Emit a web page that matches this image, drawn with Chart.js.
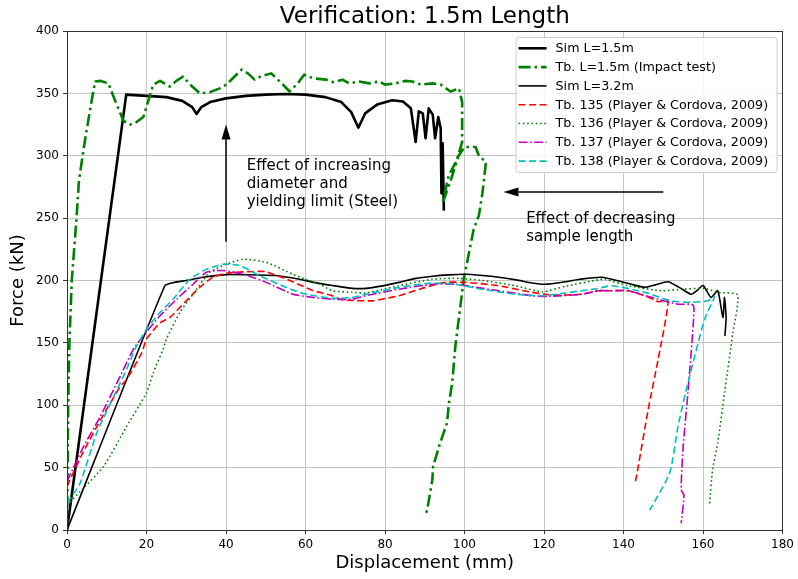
<!DOCTYPE html>
<html>
<head>
<meta charset="utf-8">
<script src="https://cdn.jsdelivr.net/npm/chart.js@4/dist/chart.umd.min.js"></script>
<style>
  html, body { margin: 0; padding: 0; background: #fff; }
  #kap { width: 798px; height: 579px; position: relative; }
</style>
</head>
<body>
<div id="kap"><canvas id="grafik"></canvas></div>
<script>
// Sim L=1.5m
const simKisaX = [0, 14.9, 20, 25, 29, 31.5, 32.6, 33.8, 36, 40, 45, 50, 55, 60, 65, 69, 71.5, 73.3, 75, 78, 81.8, 84.5, 86.5, 87.7, 88.5, 89.5, 90.2, 91, 92, 92.6, 93.4, 94, 94.2, 94.5, 94.8];
const simKisaY = [0, 349, 348, 347, 344, 339, 333.5, 339, 343, 346, 348, 349, 349.5, 349, 347, 343, 335, 322.5, 334, 341, 344.5, 343.5, 338, 311, 335.6, 334, 314, 338, 333, 314, 331, 322, 270, 310, 256];

// Tb. L=1.5m (Impact test)
const darbeX = [0, 0.3, 0.6, 1.2, 2.4, 3, 4.5, 6.3, 7.1, 8.5, 10.4, 12, 14.2, 15.9, 17.5, 19.2, 21.7, 23.4, 24.5, 25.9, 27.5, 29.2, 31, 33.4, 36, 38.4, 40.1, 43.9, 45.5, 47.2, 49, 51.4, 54, 56, 58, 59.7, 62, 65.2, 67, 69.3, 71, 73.5, 76, 78.5, 80, 82.7, 85, 86.9, 89, 91.9, 94, 96.5, 98.6, 99.4, 99.4, 98, 96, 94.5, 96.5, 98.5, 100, 102.8, 103.6, 105.4, 104.5, 103.6, 102.3, 99.8, 97.7, 96.9, 96.1, 95.6, 93.6, 92.1, 91.9, 90.6, 90.2];
const darbeY = [0, 100, 150, 200, 250, 280, 312, 346, 359.5, 360, 358, 345, 328, 325, 327, 331, 357, 360, 358, 355.5, 360, 363.5, 357, 350, 351, 354, 357, 369, 366, 361, 364, 366, 358, 351.5, 358, 365, 362, 361, 359, 361, 358, 359.5, 358, 359.5, 357, 358, 360, 359.5, 357, 358, 357, 351.5, 354, 343, 311, 296, 284, 262, 280, 300, 307, 307, 300, 295, 270, 252, 241, 201, 147.5, 118, 102, 86, 67, 51, 40, 16, 12];

// Sim L=3.2m
const simUzunX = [0, 24.6, 27, 30, 34.2, 40.1, 44.3, 52.6, 58.5, 62, 66.8, 71.8, 75.2, 79, 83.5, 87.5, 91.9, 96, 100.3, 104.5, 108.6, 113, 117, 120.3, 125.3, 129, 134.5, 139.5, 142.5, 145.4, 148, 151.2, 154, 157, 158.5, 160, 162, 163.7, 165, 165.4, 165.8, 165.5];
const simUzunY = [0, 195.8, 198.5, 200, 202.6, 204.7, 204.7, 204, 201, 198.5, 196, 193.7, 193.7, 195.5, 198.5, 201.5, 203.4, 204.5, 205, 204, 202.6, 200.5, 198, 197, 199, 201, 202.6, 199, 196.5, 194.5, 196.5, 199, 194.5, 189, 192, 196, 186.5, 191.8, 170.4, 186.5, 170, 155.6];

// Tb. 135
const tb135X = [0, 4, 8.4, 13.4, 15, 18.8, 20, 23.4, 25.9, 30, 33.4, 36.7, 40.1, 45.1, 50.1, 56.8, 61.8, 66, 69.3, 72, 76.8, 80, 83.5, 90.2, 95.2, 100.3, 104, 108.6, 117, 122, 129.5, 133.7, 137, 141.2, 145.4, 148.7, 151.2, 148.7, 146.2, 143.7, 143];
const tb135Y = [35, 62, 88, 115, 120.7, 142, 153, 166, 170.4, 183.7, 194.5, 202.6, 205.8, 207, 207, 199, 192, 188.5, 184.5, 184, 183.7, 185.5, 187.8, 194.5, 198.5, 198.5, 197.5, 195.8, 190.5, 188.3, 189, 191.8, 191.8, 191.8, 187.8, 183, 183.7, 136.8, 96.6, 51, 38.9];

// Tb. 136
const tb136X = [0, 3.3, 9.2, 15, 20, 21.7, 24.2, 25, 28.4, 31.7, 35.9, 40.1, 44.3, 50.1, 56.8, 60, 63.5, 66.8, 71.8, 75.2, 79, 83.5, 91.9, 98.6, 104.4, 112.8, 119.5, 125.3, 133.7, 135.3, 141.2, 149.5, 155, 160.4, 163.7, 168.7, 167.5, 165.4, 163.7, 162.4, 161.6];
const tb136Y = [20, 30.8, 51, 83, 110, 126, 145, 153, 174.4, 189, 206.6, 213, 217, 214.6, 205, 201, 197, 191.8, 190.5, 190, 192.5, 195.8, 201, 201.8, 200, 195.8, 191, 195.3, 200.6, 201, 195.8, 191.8, 193, 193.7, 190.5, 188.3, 158, 110, 69.8, 48.3, 20];

// Tb. 137
const tb137X = [0, 4.2, 8.4, 13.4, 16.7, 19.2, 23.4, 27.6, 31.7, 35.1, 39.2, 44.3, 50.1, 56.8, 61.8, 66.8, 71.8, 75.2, 83.5, 91.9, 97.7, 103, 108.6, 117, 121.1, 129.5, 133.7, 137, 141.2, 147, 153.7, 157.5, 157.5, 156.2, 155, 154.5, 155.2, 154.5];
const tb137Y = [38.9, 67, 91.2, 123.4, 145, 155.6, 171.7, 185, 197, 206.6, 208, 205.2, 198.5, 189, 186.5, 185, 185, 187.8, 193, 197, 197, 194.5, 191.8, 187.8, 187.3, 189, 191.8, 191.8, 191.8, 186.5, 181, 180.3, 163.6, 110, 67, 32.2, 28, 5.4];

// Tb. 138
const tb138X = [0, 3.3, 7.5, 13.4, 15, 17.1, 20, 23.4, 26.7, 30.9, 35.1, 39.2, 43.4, 48.4, 55.1, 60.2, 66.8, 71.8, 75.2, 83.5, 91.9, 97.7, 104.4, 112.8, 119.5, 125.3, 133.7, 137, 145.4, 152, 157, 161.2, 162.9, 160.4, 156.2, 153.7, 151.6, 146.6];
const tb138Y = [21.5, 37.6, 77.8, 118, 128.8, 145, 161, 174.4, 185, 201, 209, 213, 212, 204, 194.5, 189, 185.7, 186.5, 189, 194.5, 198, 197, 193, 189, 187.8, 190, 193.7, 195.8, 190.5, 183.7, 182.5, 183.7, 187.3, 169, 118, 83, 45.6, 16];

const xTikler = [0, 20, 40, 60, 80, 100, 120, 140, 160, 180];
const yTikler = [0, 50, 100, 150, 200, 250, 300, 350, 400];

// annotation anchors (data units)
const okDikey = { x: 40, y1: 231, y2: 325 };
const okYatay = { y: 271, x1: 150, x2: 109.8 };
const yazi1 = { x: 45.2, y: 288.4, satirlar: ["Effect of increasing", "diameter and", "yielding limit (Steel)"] };
const yazi2 = { x: 115.5, y: 245.7, satirlar: ["Effect of decreasing", "sample length"] };

const FONT = "'DejaVu Sans', sans-serif";

function noktalar(xs, ys) {
  return xs.map((x, i) => ({ x: x, y: ys[i] }));
}

function seri(label, xs, ys, renk, kalinlik, kesik, gerilim, sira) {
  return {
    label: label,
    data: noktalar(xs, ys),
    showLine: true,
    borderColor: renk,
    backgroundColor: renk,
    borderWidth: kalinlik,
    borderDash: kesik,
    tension: gerilim,
    pointRadius: 0,
    pointHoverRadius: 0,
    borderJoinStyle: "round",
    fill: false,
    order: sira
  };
}

const veriSetleri = [
  seri("Sim L=1.5m", simKisaX, simKisaY, "#000000", 2.6, [], 0, 7),
  seri("Tb. L=1.5m (Impact test)", darbeX, darbeY, "#008000", 2.6, [12, 4, 2.5, 4], 0, 6),
  seri("Sim L=3.2m", simUzunX, simUzunY, "#000000", 1.6, [], 0.2, 5),
  seri("Tb. 135 (Player & Cordova, 2009)", tb135X, tb135Y, "#ff0000", 1.6, [7, 3.5], 0.2, 4),
  seri("Tb. 136 (Player & Cordova, 2009)", tb136X, tb136Y, "#008000", 1.6, [1.6, 2.7], 0.2, 3),
  seri("Tb. 137 (Player & Cordova, 2009)", tb137X, tb137Y, "#bf00bf", 1.6, [9, 2.5, 1.6, 2.5], 0.2, 2),
  seri("Tb. 138 (Player & Cordova, 2009)", tb138X, tb138Y, "#00bfbf", 1.6, [7, 3.5], 0.2, 1)
];

function ok(ctx, x1, y1, x2, y2) {
  const aci = Math.atan2(y2 - y1, x2 - x1);
  const boy = 15, gen = 4.5;
  const bx = x2 - boy * Math.cos(aci), by = y2 - boy * Math.sin(aci);
  ctx.beginPath();
  ctx.moveTo(x1, y1);
  ctx.lineTo(bx, by);
  ctx.stroke();
  ctx.beginPath();
  ctx.moveTo(x2, y2);
  ctx.lineTo(bx + gen * Math.sin(aci), by - gen * Math.cos(aci));
  ctx.lineTo(bx - gen * Math.sin(aci), by + gen * Math.cos(aci));
  ctx.closePath();
  ctx.fill();
}

const ekler = {
  id: "ekler",
  afterDatasetsDraw(chart) {
    const ctx = chart.ctx;
    const a = chart.chartArea;
    const sx = chart.scales.x, sy = chart.scales.y;
    ctx.save();

    // arrows
    ctx.strokeStyle = "#000";
    ctx.fillStyle = "#000";
    ctx.lineWidth = 1.5;
    ctx.setLineDash([]);
    ok(ctx, sx.getPixelForValue(okDikey.x), sy.getPixelForValue(okDikey.y1),
      sx.getPixelForValue(okDikey.x), sy.getPixelForValue(okDikey.y2));
    ok(ctx, sx.getPixelForValue(okYatay.x1), sy.getPixelForValue(okYatay.y),
      sx.getPixelForValue(okYatay.x2), sy.getPixelForValue(okYatay.y));

    // annotation text
    ctx.font = "15px " + FONT;
    ctx.fillStyle = "#000";
    ctx.textAlign = "left";
    ctx.textBaseline = "alphabetic";
    [yazi1, yazi2].forEach((y) => {
      const px = sx.getPixelForValue(y.x), py = sy.getPixelForValue(y.y);
      y.satirlar.forEach((s, i) => ctx.fillText(s, px, py + i * 18));
    });

    // frame
    ctx.strokeStyle = "#333";
    ctx.lineWidth = 1;
    ctx.strokeRect(Math.round(a.left) + 0.5, Math.round(a.top) + 0.5, Math.round(a.right - a.left) - 1, Math.round(a.bottom - a.top));

    // legend
    const lx = a.right - 267, ly = a.top + 6, lw = 261, lh = 135;
    ctx.fillStyle = "rgba(255,255,255,0.85)";
    ctx.strokeStyle = "#cccccc";
    ctx.beginPath();
    ctx.roundRect(lx + 0.5, ly + 0.5, lw, lh, 3);
    ctx.fill();
    ctx.stroke();
    ctx.font = "12.7px " + FONT;
    ctx.textBaseline = "middle";
    chart.data.datasets.forEach((ds, i) => {
      const y = ly + 11.3 + i * 18.8;
      ctx.strokeStyle = ds.borderColor;
      ctx.lineWidth = ds.borderWidth;
      ctx.setLineDash(ds.borderDash);
      ctx.beginPath();
      ctx.moveTo(lx + 3, y);
      ctx.lineTo(lx + 31, y);
      ctx.stroke();
      ctx.setLineDash([]);
      ctx.fillStyle = "#000";
      ctx.fillText(ds.label, lx + 40, y + 0.5);
    });

    ctx.restore();
  },
  afterDraw(chart) {
    const ctx = chart.ctx;
    const a = chart.chartArea;
    ctx.save();
    ctx.font = "23px " + FONT;
    ctx.fillStyle = "#000";
    ctx.textAlign = "center";
    ctx.textBaseline = "alphabetic";
    ctx.fillText("Verification: 1.5m Length", (a.left + a.right) / 2, 23);
    ctx.restore();
  }
};

new Chart(document.getElementById("grafik"), {
  type: "scatter",
  data: { datasets: veriSetleri },
  options: {
    responsive: true,
    maintainAspectRatio: false,
    animation: false,
    layout: { padding: { top: 31, right: 14, left: 0, bottom: 0 } },
    plugins: {
      legend: { display: false },
      tooltip: { enabled: false },
      title: { display: false }
    },
    scales: {
      x: {
        type: "linear",
        min: 0,
        max: 180,
        afterBuildTicks: (s) => { s.ticks = xTikler.map((v) => ({ value: v })); },
        afterFit: (s) => { s.height = 49; },
        ticks: { color: "#000", font: { family: FONT, size: 12 }, padding: 4, maxRotation: 0 },
        grid: { color: "#c4c4c4", lineWidth: 1, tickLength: 4, tickColor: "#333" },
        border: { color: "#333", width: 1 },
        title: { display: true, text: "Displacement (mm)", color: "#000", font: { family: FONT, size: 18 }, padding: { top: 0, bottom: 5 } }
      },
      y: {
        type: "linear",
        min: 0,
        max: 400,
        afterBuildTicks: (s) => { s.ticks = yTikler.map((v) => ({ value: v })); },
        afterFit: (s) => { s.width = 67; },
        ticks: { color: "#000", font: { family: FONT, size: 12 }, padding: 4 },
        grid: { color: "#c4c4c4", lineWidth: 1, tickLength: 4, tickColor: "#333" },
        border: { color: "#333", width: 1 },
        title: { display: true, text: "Force (kN)", color: "#000", font: { family: FONT, size: 18 }, padding: { top: 8, bottom: 0 } }
      }
    }
  },
  plugins: [ekler]
});
</script>
</body>
</html>
